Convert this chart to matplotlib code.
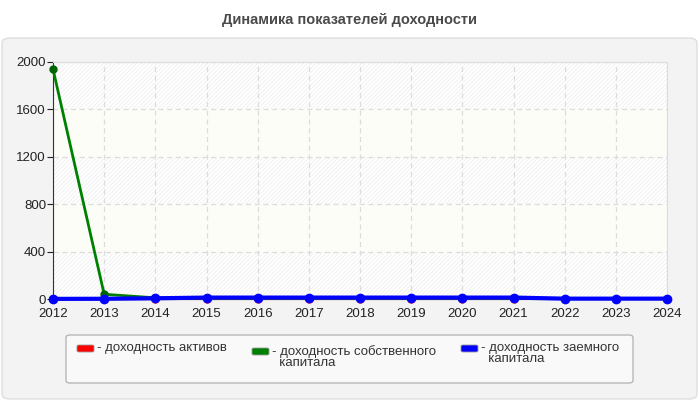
import matplotlib
matplotlib.use("Agg")
import matplotlib.pyplot as plt
import numpy as np
from matplotlib.patches import FancyBboxPatch, Rectangle

plt.rcParams['font.family'] = ['Liberation Sans', 'DejaVu Sans']
plt.rcParams['hatch.linewidth'] = 0.5

years = [2012, 2013, 2014, 2015, 2016, 2017, 2018, 2019, 2020, 2021, 2022, 2023, 2024]
roa = [1, 2, 3, 3, 3, 3, 3, 3, 3, 3, np.nan, np.nan, np.nan]
roe = [1940, 40, 10, 5, 5, 5, 5, 5, 5, 5, np.nan, np.nan, np.nan]
rod = [1, 2, 6, 12, 12, 12, 12, 12, 12, 12, 3, 3, 3]
labels = ["- доходность активов", "- доходность собственного\n  капитала", "- доходность заемного\n  капитала"]
colors = ["#ff0000", "#008000", "#0000ff"]
yticks = [0, 400, 800, 1200, 1600, 2000]
title = "Динамика показателей доходности"

fig = plt.figure(figsize=(7, 4), dpi=100)
fig.patch.set_facecolor('white')

# panel
panel = FancyBboxPatch((2/700, 1/400), 695/700, 361/400, boxstyle="round,pad=0,rounding_size=0.012",
                       transform=fig.transFigure, facecolor='#f3f3f3', edgecolor='#dedede', lw=1,
                       zorder=-10)
fig.patches.append(panel)

fig.text(0.5, 1 - 20/400, title, ha='center', va='center', fontsize=10.5, fontweight='bold', color='#4a4a4a')

ax = fig.add_axes([53/700, 1 - 299/400, 614/700, 237/400])
ax.set_zorder(1)
ax.set_facecolor('white')
ax.set_xlim(years[0], years[-1])
ax.set_ylim(0, 2000)

# alternating bands
for i in range(len(yticks) - 1):
    lo, hi = yticks[i], yticks[i + 1]
    if i % 2 == 0:
        ax.add_patch(Rectangle((years[0], lo), years[-1] - years[0], hi - lo, facecolor='white',
                               edgecolor='#ececec', hatch='////////', lw=0, zorder=0))
    else:
        ax.add_patch(Rectangle((years[0], lo), years[-1] - years[0], hi - lo, facecolor='#fdfdf7',
                               edgecolor='none', lw=0, zorder=0))

ax.grid(True, color='#dcdcdc', linestyle=(0, (4, 3)), lw=0.9, zorder=1)
ax.set_axisbelow(True)

ax.plot(years, roa, color=colors[0], lw=2, marker='o', ms=5, zorder=3, clip_on=False)
ax.plot(years, roe, color=colors[1], lw=2, marker='o', ms=5, mfc='#006400', mec='#006400',
        zorder=4, clip_on=False)
ax.plot(years, rod, color=colors[2], lw=3, marker='o', ms=6, zorder=5, clip_on=False)

ax.set_xticks(years)
ax.set_xticklabels([str(y) for y in years])
ax.set_yticks(yticks)
ax.tick_params(axis='both', labelsize=9.5, colors='#222222', length=4, width=0.8, pad=1)
ax.tick_params(axis='x', length=0, pad=6.5)
for s in ['top', 'right']:
    ax.spines[s].set_color('#dddddd')
ax.spines['left'].set_color('#333333')
ax.spines['bottom'].set_color('#333333')

# legend box
lb = FancyBboxPatch((66/700, 1 - 383/400), 567/700, 48/400, boxstyle="round,pad=0,rounding_size=0.006",
                    transform=fig.transFigure, facecolor='#f9f9f9', edgecolor='#b0b0b0', lw=0.9)
fig.patches.append(lb)
patch_x = [77, 252, 461]
patch_y = [345, 348, 345]
text_x = [97, 272, 481]
text_y = [342, 345, 342]
for px, py, tx, ty, c, lab in zip(patch_x, patch_y, text_x, text_y, colors, labels):
    fig.patches.append(FancyBboxPatch((px/700, 1 - (py + 7)/400), 17/700, 7/400,
                                      boxstyle="round,pad=0,rounding_size=0.003",
                                      transform=fig.transFigure, facecolor=c, edgecolor='#999999', lw=0.6))
    fig.text(tx/700, 1 - ty/400, lab, ha='left', va='top', fontsize=9.5, color='#333333', linespacing=0.9)

fig.savefig('out.png', dpi=100)
